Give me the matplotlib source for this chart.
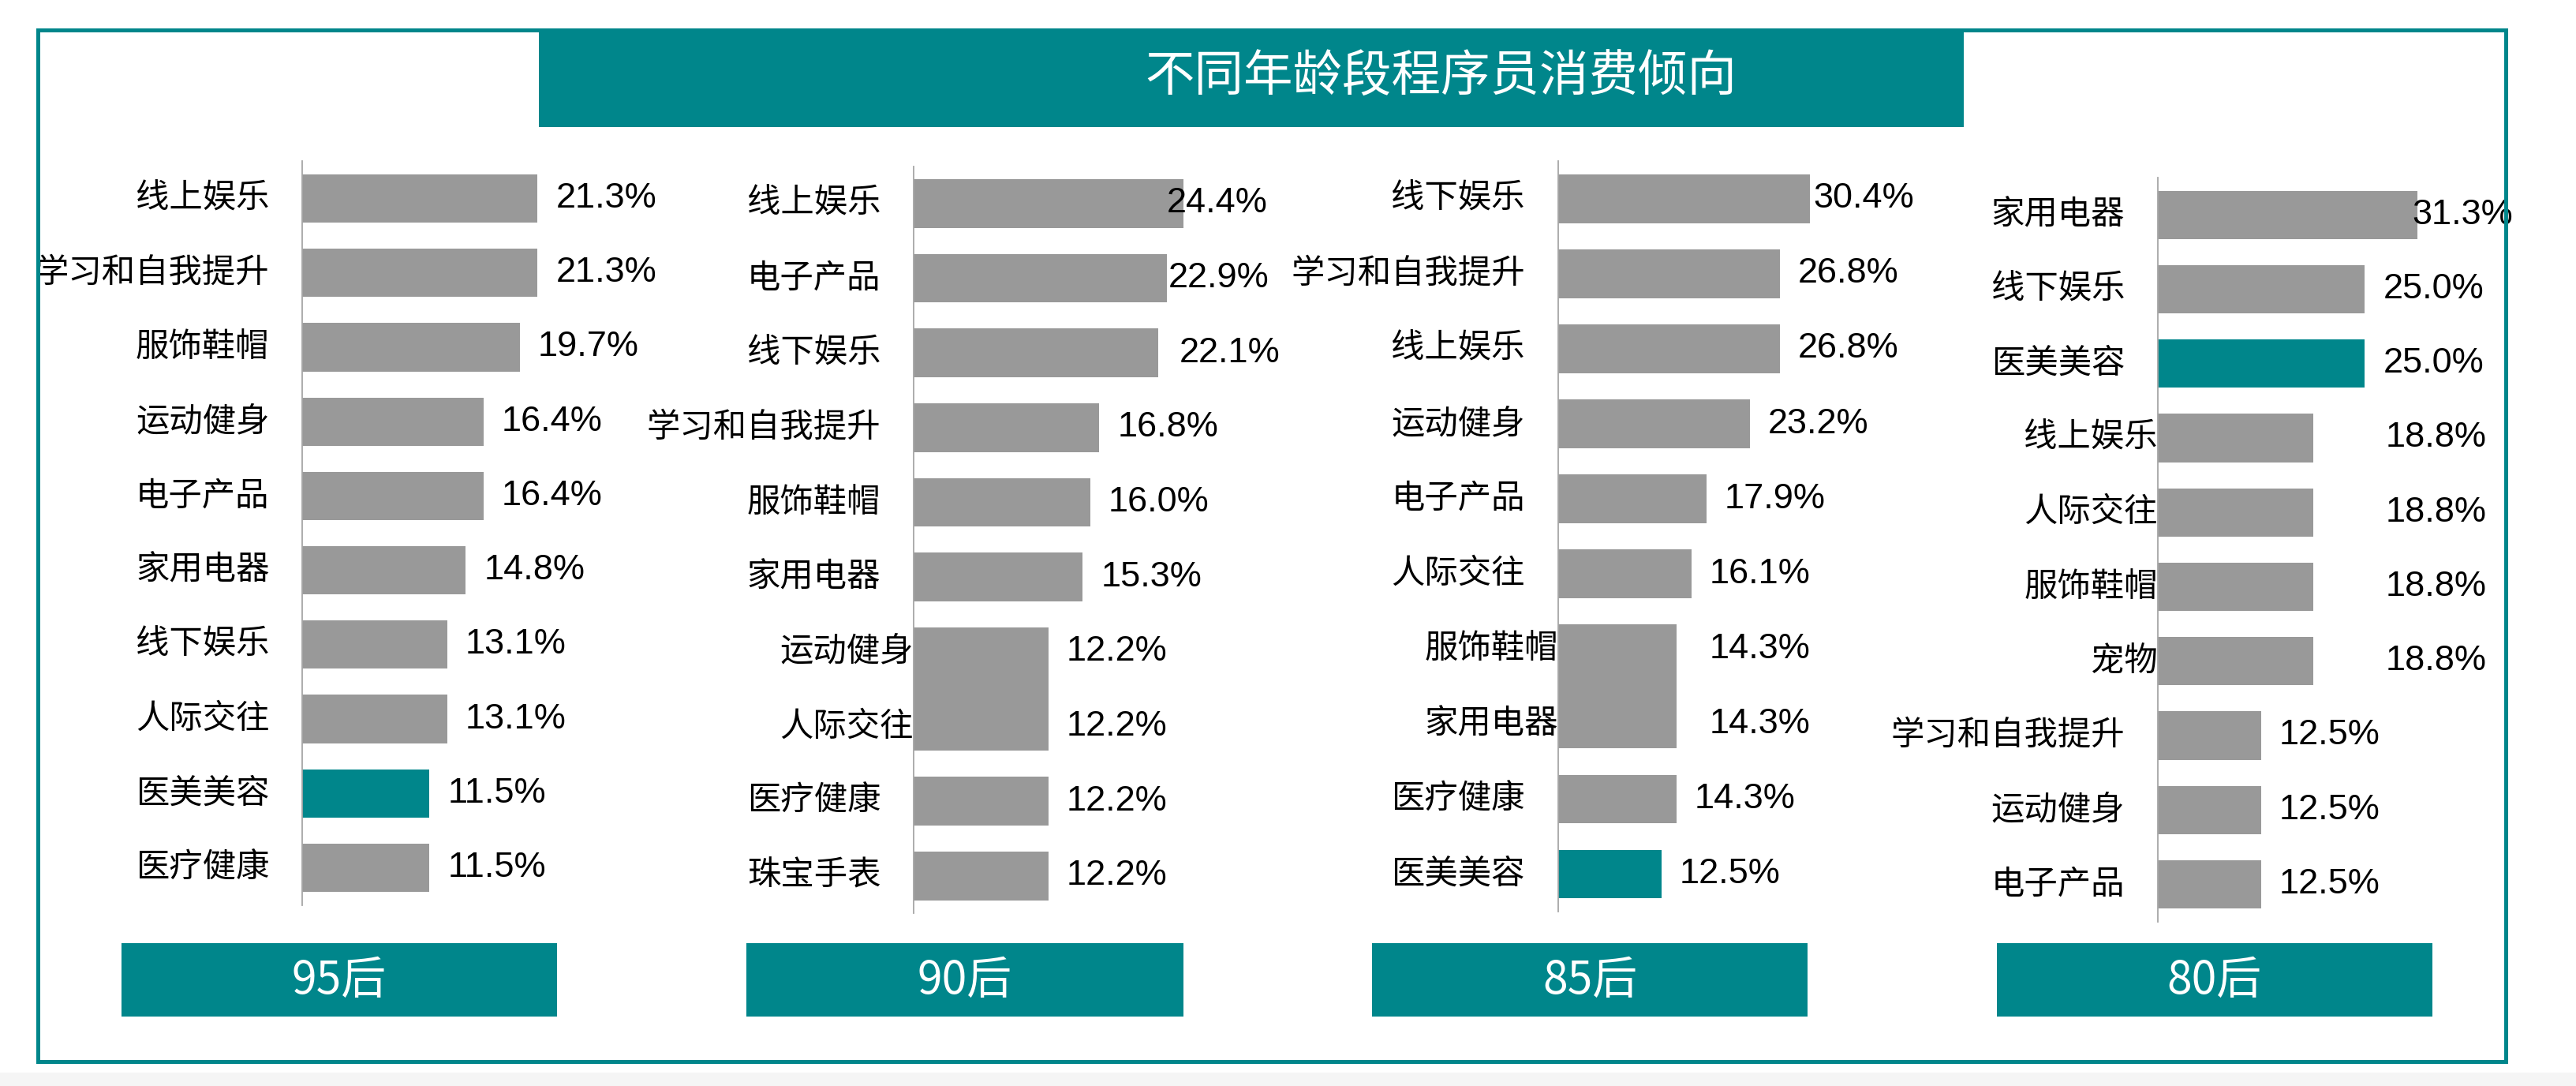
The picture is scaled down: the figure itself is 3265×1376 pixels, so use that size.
import matplotlib
matplotlib.use("Agg")
import matplotlib.pyplot as plt
from matplotlib.patches import Rectangle

plt.rcParams['font.family'] = ['Noto Sans CJK SC', 'DejaVu Sans']

TEAL = "#00868B"
GRAY = "#999999"
AXIS_GRAY = "#a6a6a6"

title = "不同年龄段程序员消费倾向"
groups = ["95后", "90后", "85后", "80后"]
highlight = "医美美容"

cats_95 = ["线上娱乐", "学习和自我提升", "服饰鞋帽", "运动健身", "电子产品",
           "家用电器", "线下娱乐", "人际交往", "医美美容", "医疗健康"]
vals_95 = [21.3, 21.3, 19.7, 16.4, 16.4, 14.8, 13.1, 13.1, 11.5, 11.5]

cats_90 = ["线上娱乐", "电子产品", "线下娱乐", "学习和自我提升", "服饰鞋帽",
           "家用电器", "运动健身", "人际交往", "医疗健康", "珠宝手表"]
vals_90 = [24.4, 22.9, 22.1, 16.8, 16.0, 15.3, 12.2, 12.2, 12.2, 12.2]

cats_85 = ["线下娱乐", "学习和自我提升", "线上娱乐", "运动健身", "电子产品",
           "人际交往", "服饰鞋帽", "家用电器", "医疗健康", "医美美容"]
vals_85 = [30.4, 26.8, 26.8, 23.2, 17.9, 16.1, 14.3, 14.3, 14.3, 12.5]

cats_80 = ["家用电器", "线下娱乐", "医美美容", "线上娱乐", "人际交往",
           "服饰鞋帽", "宠物", "学习和自我提升", "运动健身", "电子产品"]
vals_80 = [31.3, 25.0, 25.0, 18.8, 18.8, 18.8, 18.8, 12.5, 12.5, 12.5]

# layout measured on a 1568 x 660 grid of the reference
W, H = 1568, 660
PX = 1.5  # points per grid px


def fx(x):
    return x / W


def fy(y):
    return 1 - y / H


def fig_rect(fig, x0, y0, x1, y1, **kw):
    r = Rectangle((fx(x0), fy(y1)), fx(x1) - fx(x0), fy(y0) - fy(y1),
                  transform=fig.transFigure, **kw)
    fig.add_artist(r)
    return r


panels = [
    dict(cats=cats_95, vals=vals_95, left=184, top=98, bottom=550, xmax=36,
         box=(74, 339), tight=[], merged=[], val_gap={}),
    dict(cats=cats_90, vals=vals_90, left=556, top=101, bottom=555, xmax=36,
         box=(454, 720), tight=[6, 7], merged=[6], val_gap={0: -10, 1: 1, 2: 13}),
    dict(cats=cats_85, vals=vals_85, left=948, top=98, bottom=554, xmax=48,
         box=(835, 1100), tight=[6, 7], merged=[6], val_gap={0: 2, 6: 20, 7: 20}),
    dict(cats=cats_80, vals=vals_80, left=1313, top=108, bottom=560, xmax=48,
         box=(1215, 1480), tight=[3, 4, 5, 6], merged=[], val_gap={0: -3, 3: 44, 4: 44, 5: 44, 6: 44}),
]

fig = plt.figure(figsize=(32.66, 13.76), dpi=100)
fig.patch.set_facecolor("white")

# faint strip below the frame and the frame itself
fig_rect(fig, 0, 652, W, H, facecolor="#f5f5f5", edgecolor="none")
fig_rect(fig, 23, 18, 1525, 645, fill=False, edgecolor=TEAL, lw=3.6)

# title banner
fig_rect(fig, 328, 18, 1195, 77, facecolor=TEAL, edgecolor="none")
fig.text(fx(877), fy(47), title, color="white", fontsize=45,
         ha="center", va="center")

bar_h = 0.65
for p, group in zip(panels, groups):
    n = len(p["cats"])
    ax = fig.add_axes([fx(p["left"]), fy(p["bottom"]), 242 / W,
                       (p["bottom"] - p["top"]) / H])
    ax.set_xlim(0, p["xmax"])
    ax.set_ylim(n - 0.5, -0.5)
    ax.set_facecolor("none")
    for s in ["top", "right", "bottom"]:
        ax.spines[s].set_visible(False)
    ax.spines["left"].set_color(AXIS_GRAY)
    ax.spines["left"].set_linewidth(1.3)
    ax.set_xticks([])
    ax.set_yticks([])

    for i, (c, v) in enumerate(zip(p["cats"], p["vals"])):
        color = TEAL if c == highlight else GRAY
        y0, y1 = i - bar_h / 2, i + bar_h / 2
        # pairs that were pasted together in the original slide
        if i in p["merged"]:
            y1 = i + 0.5
        if i - 1 in p["merged"]:
            y0 = i - 0.5
        ax.barh((y0 + y1) / 2, v, height=y1 - y0, color=color, edgecolor="none")

        pad = 0 if i in p["tight"] else 20
        ax.annotate(c, xy=(0, i), xytext=(-pad * PX, 0), textcoords="offset points",
                    ha="right", va="center", fontsize=30.5, color="black",
                    annotation_clip=False)
        gap = p["val_gap"].get(i, 11)
        ax.annotate(f"{v:.1f}%", xy=(v, i), xytext=(gap * PX, 0),
                    textcoords="offset points", ha="left", va="center",
                    fontsize=32.5, color="black", family=["Liberation Sans"],
                    annotation_clip=False)

    bx0, bx1 = p["box"]
    fig_rect(fig, bx0, 573, bx1, 618, facecolor=TEAL, edgecolor="none")
    fig.text(fx((bx0 + bx1) / 2), fy(596), group, color="white", fontsize=41,
             ha="center", va="center")

fig.savefig("out.png", dpi=100)
